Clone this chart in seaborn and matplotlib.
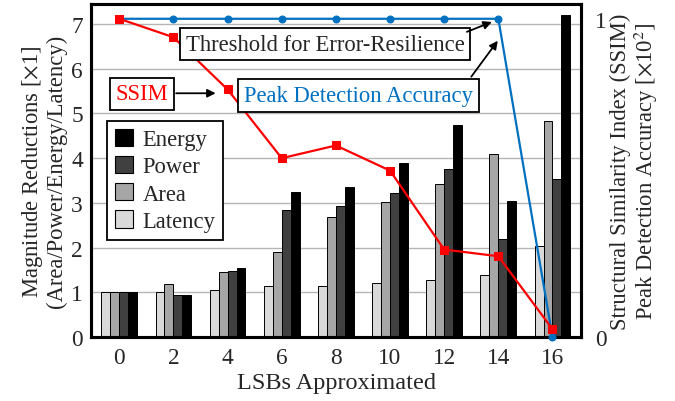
import numpy as np
import pandas as pd
import matplotlib
matplotlib.use("Agg")
import matplotlib.pyplot as plt
from matplotlib.patches import Patch
import seaborn as sns

lsbs = ["0", "2", "4", "6", "8", "10", "12", "14", "16"]
latency = [1.00, 1.00, 1.06, 1.14, 1.14, 1.21, 1.28, 1.38, 2.04]
area = [1.00, 1.19, 1.46, 1.90, 2.69, 3.01, 3.43, 4.10, 4.84]
power = [1.00, 0.94, 1.47, 2.85, 2.94, 3.22, 3.76, 2.20, 3.54]
energy = [1.00, 0.94, 1.55, 3.25, 3.35, 3.89, 4.73, 3.05, 7.21]
ssim = [1.00, 0.942, 0.778, 0.562, 0.602, 0.523, 0.275, 0.254, 0.025]
peak_acc = [1.0, 1.0, 1.0, 1.0, 1.0, 1.0, 1.0, 1.0, 0.0]

metrics = ["Latency", "Area", "Power", "Energy"]
colors = {"Latency": "#d9d9d9", "Area": "#a6a6a6", "Power": "#404040", "Energy": "#000000"}

sns.set_style("white")
plt.rcParams["font.family"] = ["Liberation Serif", "DejaVu Serif"]
plt.rcParams["mathtext.fontset"] = "stix"

df = pd.DataFrame({
    "LSB": lsbs * 4,
    "Metric": sum([[m] * len(lsbs) for m in metrics], []),
    "Value": latency + area + power + energy,
})

fig = plt.figure(figsize=(6.75, 4.02), dpi=100)
ax = fig.add_axes([0.135, 0.159, 0.726, 0.829])

sns.barplot(data=df, x="LSB", y="Value", hue="Metric", order=lsbs, hue_order=metrics,
            palette=colors, width=0.66, edgecolor="black", linewidth=0.7,
            legend=False, ax=ax, saturation=1)

fs = 16.3
ax.set_xlim(-0.52, 8.53)
ax.set_ylim(0, 7.45)
ax.set_yticks(range(0, 8))
ax.yaxis.grid(True, color="#b5b5b5", linewidth=1.0)
ax.set_axisbelow(True)
ax.tick_params(axis="both", length=0, labelsize=fs + 0.5)
ax.tick_params(axis="x", pad=7)
ax.tick_params(axis="y", pad=6)
ax.set_xlabel("LSBs Approximated", fontsize=17.5, labelpad=3)
ax.set_ylabel("Magnitude Reductions [$\\times$1]\n(Area/Power/Energy/Latency)", fontsize=fs,
              labelpad=3, linespacing=1.05)
for s in ax.spines.values():
    s.set_linewidth(2.2)
    s.set_color("black")

ax2 = ax.twinx()
x = np.arange(len(lsbs))
sns.lineplot(x=x, y=peak_acc, ax=ax2, color="#0070C0", marker="o", markersize=5,
             markeredgecolor="#0070C0", linewidth=1.6, clip_on=False, zorder=5)
sns.lineplot(x=x, y=ssim, ax=ax2, color="#ff0000", marker="s", markersize=6,
             markeredgecolor="#ff0000", linewidth=1.6, clip_on=False, zorder=6)
ax2.set_ylim(0, 1.047)
ax2.set_yticks([0, 1])
ax2.set_yticklabels(["0", "1"])
ax2.tick_params(axis="y", length=0, labelsize=fs + 0.5, pad=10)
ax2.set_ylabel("Structural Similarity Index (SSIM)\nPeak Detection Accuracy [$\\times$10$^2$]",
               fontsize=fs, labelpad=2, linespacing=1.05)
for s in ax2.spines.values():
    s.set_linewidth(2.2)
    s.set_color("black")

box = dict(boxstyle="square,pad=0.25", facecolor="white", edgecolor="black", linewidth=1.3)
arrow = dict(arrowstyle="-|>", color="black", linewidth=1.3, mutation_scale=12, shrinkA=0, shrinkB=0)

ax2.text(3.8, 0.92, "Threshold for Error-Resilience", fontsize=fs, ha="center", va="center",
         bbox=box, zorder=10)
ax2.annotate("", xy=(6.88, 0.99), xytext=(6.42, 0.959), arrowprops=arrow, zorder=10)

ax2.text(4.42, 0.759, "Peak Detection Accuracy", fontsize=fs, ha="center", va="center",
         color="#0070C0", bbox=box, zorder=10)
ax2.annotate("", xy=(6.99, 0.931), xytext=(6.5, 0.818), arrowprops=arrow, zorder=10)

ax2.text(0.42, 0.764, "SSIM", fontsize=fs, ha="center", va="center", color="#ff0000",
         bbox=box, zorder=10)
ax2.annotate("", xy=(1.78, 0.766), xytext=(1.05, 0.766), arrowprops=arrow, zorder=10)

handles = [Patch(facecolor=colors[m], edgecolor="black", linewidth=0.8) for m in metrics[::-1]]
leg = ax2.legend(handles, metrics[::-1], loc="upper left", bbox_to_anchor=(0.033, 0.649),
                 borderaxespad=0, fontsize=fs, frameon=True, fancybox=False, framealpha=1,
                 edgecolor="black", handlelength=0.8, handleheight=0.8, handletextpad=0.4,
                 labelspacing=0.25, borderpad=0.35)
leg.get_frame().set_linewidth(1.3)
leg.set_zorder(11)

fig.savefig("out.png", dpi=100)
